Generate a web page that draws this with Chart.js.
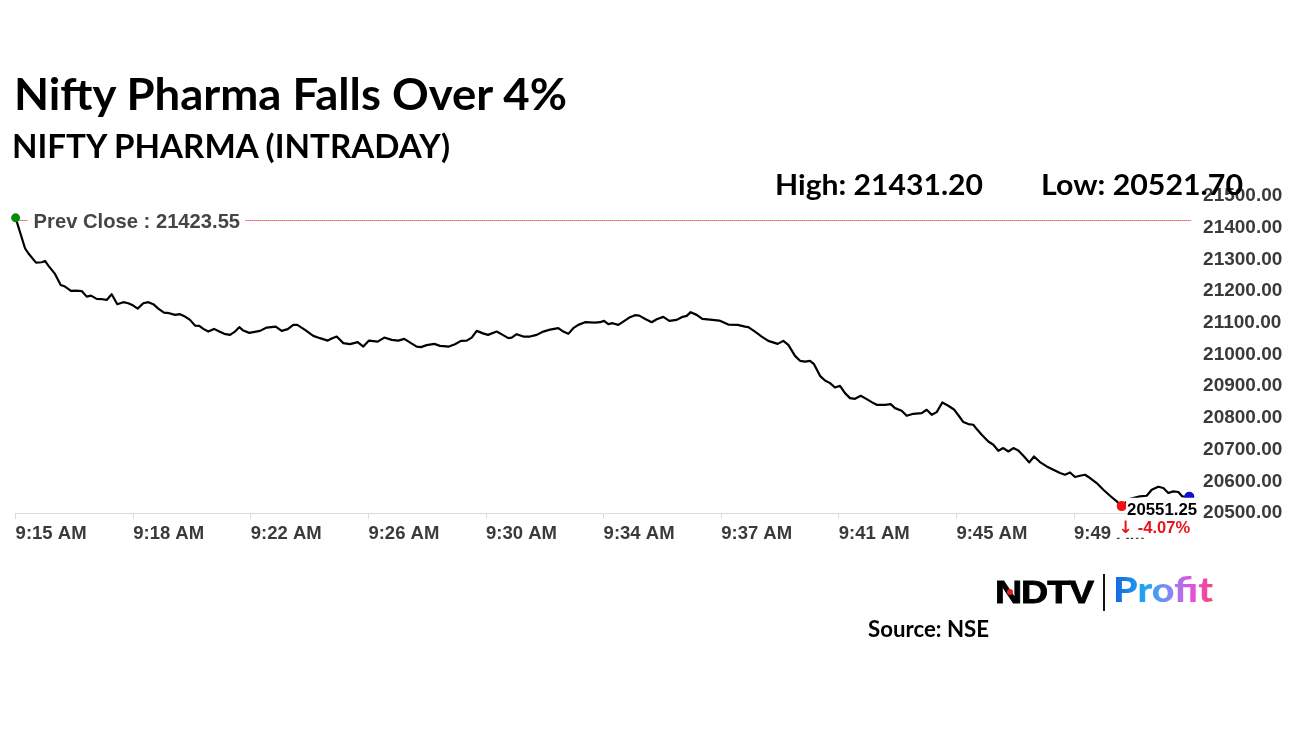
<!DOCTYPE html>
<html><head><meta charset="utf-8">
<script src="https://cdn.jsdelivr.net/npm/chart.js@4.4.1/dist/chart.umd.min.js"></script>
<style>
html,body{margin:0;padding:0;background:#fff;}
#wrap{position:relative;width:1296px;height:729px;overflow:hidden;background:#fff;}
#c{position:absolute;left:0;top:0;}
.t{position:absolute;white-space:nowrap;line-height:1;font-family:Lato,"Open Sans",sans-serif;font-weight:700;color:#000;transform-origin:left top;}
</style></head><body>
<div id="wrap">
<canvas id="c" width="1296" height="729"></canvas>
<div class="t" id="title" style="left:14px;top:71px;font-size:44.7px" data-w="553">Nifty Pharma Falls Over 4%</div>
<div class="t" id="sub" style="left:12px;top:129.6px;font-size:32px" data-w="438">NIFTY PHARMA (INTRADAY)</div>
<div class="t" id="hi" style="left:775px;top:169px;font-size:29.3px" data-w="208"></div>
<div class="t" id="lo" style="left:1041px;top:169px;font-size:29.3px" data-w="202"></div>
<div class="t" id="ndtv" style="left:995px;top:576px;font-size:32px;font-family:'Liberation Sans',Arial,sans-serif;font-weight:700;letter-spacing:-1px;-webkit-text-stroke:0.8px #000" data-w="98">NDTV</div>
<div style="position:absolute;left:1007px;top:589px;width:6px;height:6px;border-radius:50%;background:#e0201b"></div>
<div style="position:absolute;left:1103px;top:574px;width:2px;height:37px;background:#111"></div>
<div class="t" id="profit" style="left:1113px;top:573.3px;font-size:33.5px;font-weight:900;background:linear-gradient(90deg,#1463e0 0%,#1ea8f2 32%,#8c86f2 58%,#e64fdc 80%,#f2467a 100%);-webkit-background-clip:text;background-clip:text;color:transparent" data-w="100">Profit</div>
<div class="t" id="src" style="left:868px;top:618px;font-size:22.3px" data-w="121">Source: NSE</div>
</div>
<script>
// minutes after 9:15 AM
const times = [0, 0.30, 0.405, 0.65, 0.832, 0.938, 1.043, 1.256, 1.438, 1.575,
1.767, 1.916, 2.108, 2.267, 2.404, 2.586, 2.765, 2.905, 3.064, 3.243,
3.434, 3.594, 3.753, 3.893, 4.072, 4.232, 4.391, 4.55, 4.732, 4.901,
5.083, 5.242, 5.402, 5.561, 5.721, 5.858, 5.985, 6.145, 6.327, 6.496,
6.655, 6.837, 6.996, 7.133, 7.261, 7.452, 7.794, 8.007, 8.294, 8.485,
8.677, 8.855, 8.983, 9.228, 9.493, 9.707, 9.952, 10.099, 10.239, 10.45,
10.663, 10.909, 11.087, 11.269, 11.547, 11.757, 11.993, 12.204, 12.395, 12.609,
12.79, 12.927, 13.109, 13.351, 13.533, 13.82, 14.011, 14.203, 14.385, 14.544,
14.704, 14.904, 15.064, 15.341, 15.533, 15.711, 15.82, 15.979, 16.19, 16.403,
16.617, 16.827, 17.041, 17.306, 17.465, 17.624, 17.784, 17.943, 18.157, 18.476,
18.635, 18.763, 18.9, 19.04, 19.219, 19.378, 19.592, 19.751, 19.888, 20.093,
20.284, 20.443, 20.654, 20.845, 21.081, 21.241, 21.4, 21.528, 21.719, 21.898,
22.143, 22.44, 22.727, 23.026, 23.259, 23.364, 23.578, 23.792, 24.002, 24.302,
24.481, 24.64, 24.854, 25.013, 25.173, 25.332, 25.46, 25.651, 25.81, 25.97,
26.129, 26.289, 26.448, 26.608, 26.767, 26.949, 27.14, 27.3, 27.459, 27.723,
27.905, 28.042, 28.256, 28.415, 28.626, 28.894, 29.053, 29.213, 29.372, 29.551,
29.742, 29.934, 30.093, 30.221, 30.38, 30.54, 30.648, 30.808, 31.018, 31.177,
31.337, 31.496, 31.656, 31.816, 31.975, 32.157, 32.325, 32.475, 32.666, 32.88,
33.091, 33.305, 33.463, 33.624, 33.782, 33.942, 34.102, 34.261, 34.474, 34.686,
34.899, 35.113, 35.272, 35.536, 35.855, 36.069, 36.228, 36.439, 36.598, 36.758,
36.917, 37.077, 37.204, 37.427];
const prices = [21431.20, 21335.2, 21319.4, 21289.8, 21291.0, 21295.1, 21280.3, 21254.2, 21219.5, 21214.2,
21200.6, 21201.5, 21200.0, 21182.6, 21185.8, 21175.4, 21174.4, 21172.2, 21190.2, 21158.7,
21165.0, 21161.8, 21154.3, 21144.8, 21161.8, 21165.0, 21158.7, 21144.8, 21132.2, 21130.3,
21125.0, 21127.2, 21119.6, 21109.2, 21091.2, 21090.0, 21080.8, 21072.3, 21080.8, 21072.3,
21065.1, 21061.9, 21072.3, 21086.2, 21075.5, 21068.2, 21074.5, 21084.9, 21088.1, 21074.5,
21079.9, 21093.4, 21093.4, 21077.7, 21058.8, 21051.5, 21043.9, 21051.5, 21056.6, 21035.8,
21032.6, 21038.9, 21025.0, 21043.9, 21040.8, 21053.4, 21046.2, 21043.9, 21049.3, 21035.8,
21025.0, 21023.2, 21029.5, 21033.6, 21027.3, 21025.0, 21032.6, 21043.0, 21043.9, 21053.4,
21074.5, 21066.7, 21061.9, 21072.3, 21061.9, 21051.5, 21053.4, 21064.1, 21056.6, 21056.6,
21061.9, 21072.3, 21078.6, 21083.0, 21072.3, 21065.1, 21083.0, 21093.4, 21101.9, 21100.7,
21101.9, 21106.1, 21095.6, 21098.8, 21093.4, 21103.8, 21117.7, 21124.0, 21122.7, 21111.4,
21101.9, 21111.4, 21118.7, 21106.1, 21109.2, 21117.7, 21121.8, 21133.5, 21125.0, 21112.4,
21110.1, 21107.0, 21094.4, 21093.4, 21088.1, 21086.2, 21072.3, 21056.6, 21043.0, 21033.6,
21043.0, 21030.4, 20995.7, 20980.0, 20977.8, 20980.0, 20969.6, 20932.7, 20917.9, 20909.7,
20895.8, 20901.2, 20878.2, 20862.4, 20860.2, 20869.7, 20859.3, 20849.8, 20841.3, 20841.3,
20843.5, 20830.9, 20822.4, 20806.6, 20812.9, 20815.2, 20825.6, 20809.8, 20818.3, 20848.6,
20838.2, 20825.6, 20804.4, 20786.8, 20780.5, 20778.3, 20764.7, 20746.8, 20725.6, 20715.3,
20696.3, 20704.8, 20694.1, 20704.8, 20697.3, 20678.4, 20659.5, 20678.4, 20660.7, 20646.9,
20636.5, 20626.1, 20620.7, 20627.9, 20613.5, 20617.6, 20620.7, 20610.3, 20594.5, 20573.4,
20554.5, 20536.6, 20521.70, 20545.1, 20552.3, 20554.5, 20573.4, 20582.9, 20578.8, 20563.0,
20568.1, 20566.2, 20552.3, 20551.25];
const tickPositions = [0, 3.75, 7.5, 11.25, 15, 18.75, 22.5, 26.25, 30, 33.75];
const tickLabels = ['9:15 AM', '9:18 AM', '9:22 AM', '9:26 AM', '9:30 AM', '9:34 AM', '9:37 AM', '9:41 AM', '9:45 AM', '9:49 AM'];
const prevClose = 21423.55;
const dayHigh = 21431.20;
const dayLow = 20521.70;
const yMin = 20500, yMax = 21500, yStep = 100;

const n = Math.min(times.length, prices.length);
const points = [];
for (let i = 0; i < n; i++) points.push({x: times[i], y: prices[i]});
const lastPt = points[n - 1];
let lowIdx = 0;
for (let i = 1; i < n; i++) if (points[i].y < points[lowIdx].y) lowIdx = i;
const changePct = (lastPt.y / prevClose - 1) * 100;

document.getElementById('hi').textContent = 'High: ' + dayHigh.toFixed(2);
document.getElementById('lo').textContent = 'Low: ' + dayLow.toFixed(2);

const FONT = '"Liberation Sans", Arial, sans-serif';

const overlay = {
  id: 'overlay',
  beforeDatasetsDraw(chart) {
    const {ctx, chartArea, scales: {y}} = chart;
    const py = Math.round(y.getPixelForValue(prevClose)) + 0.5;
    ctx.save();
    ctx.strokeStyle = '#d8000c'; ctx.lineWidth = 1; ctx.setLineDash([1, 1]);
    ctx.beginPath(); ctx.moveTo(chartArea.left, py); ctx.lineTo(chartArea.right, py); ctx.stroke();
    ctx.setLineDash([]);
    ctx.font = 'bold 20.2px ' + FONT;
    const txt = 'Prev Close : ' + prevClose.toFixed(2);
    const tx = chartArea.left + 18;
    const w = ctx.measureText(txt).width;
    ctx.fillStyle = '#fff'; ctx.fillRect(tx - 6, py - 11, w + 11, 23);
    ctx.fillStyle = '#454545'; ctx.textBaseline = 'middle'; ctx.textAlign = 'left';
    ctx.fillText(txt, tx, py + 2);
    ctx.restore();
  },
  afterDraw(chart) {
    const {ctx, chartArea, scales: {y}} = chart;
    const ly = y.getPixelForValue(lastPt.y);
    ctx.save();
    const right = chartArea.right + 5.5;
    ctx.font = 'bold 16.8px ' + FONT;
    const t1 = lastPt.y.toFixed(2);
    const w1 = ctx.measureText(t1).width;
    ctx.fillStyle = '#fff'; ctx.fillRect(right - w1 - 1, ly + 1, w1 + 3, 20);
    ctx.fillStyle = '#000'; ctx.textAlign = 'right'; ctx.textBaseline = 'middle';
    ctx.fillText(t1, right, ly + 13.5);
    // change label: arrow + percentage
    ctx.font = 'bold 16.5px ' + FONT;
    const t2 = changePct.toFixed(2) + '%';
    const w2 = ctx.measureText(t2).width;
    const r2 = chartArea.right - 1.5;
    const arrowFont = 'bold 17px "DejaVu Sans", sans-serif';
    ctx.font = arrowFont;
    const arrow = '\u2193';
    const wa = ctx.measureText(arrow).width;
    const left2 = r2 - w2 - 5 - wa;
    ctx.fillStyle = '#fff'; ctx.fillRect(left2 - 2, ly + 22, r2 - left2 + 4, 19);
    ctx.fillStyle = '#e8141b';
    ctx.textAlign = 'left';
    ctx.fillText(arrow, left2, ly + 32);
    ctx.font = 'bold 16.5px ' + FONT;
    ctx.textAlign = 'right';
    ctx.fillText(t2, r2, ly + 32);
    ctx.restore();
  }
};

new Chart(document.getElementById('c'), {
  type: 'line',
  data: {
    datasets: [
      {data: [points[0]], showLine: false, pointRadius: 4.5, pointBackgroundColor: '#0a8a0a', pointBorderWidth: 0, order: 0, clip: false},
      {data: [points[lowIdx]], showLine: false, pointRadius: 5, pointBackgroundColor: '#f01010', pointBorderWidth: 0, order: 0, clip: false},
      {data: [lastPt], showLine: false, pointRadius: 5, pointBackgroundColor: '#1010d0', pointBorderWidth: 0, order: 0, clip: false},
      {data: points, borderColor: '#000', borderWidth: 2.2, pointRadius: 0, tension: 0, fill: false, order: 1, clip: false, borderJoinStyle: 'round'}
    ]
  },
  options: {
    responsive: false, animation: false, devicePixelRatio: 1,
    layout: {padding: {left: 15.6, top: 196, right: 0, bottom: 0}},
    plugins: {legend: {display: false}, tooltip: {enabled: false}, title: {display: false}},
    scales: {
      x: {
        type: 'linear', min: 0, max: 37.5,
        afterBuildTicks: s => { s.ticks = tickPositions.map(v => ({value: v})); },
        afterFit: s => { s.height = 216; },
        ticks: {align: 'start', autoSkip: false, maxRotation: 0, padding: 4, color: '#3a3a3a',
          font: {family: FONT, size: 18.5, weight: 'bold'},
          callback: (v, i) => tickLabels[i]},
        grid: {drawOnChartArea: false, drawTicks: true, tickLength: 6, color: '#dcdcdc'},
        border: {display: true, color: '#dcdcdc', width: 1}
      },
      y: {
        position: 'right', min: yMin, max: yMax,
        afterFit: s => { s.width = 104.4; },
        ticks: {stepSize: yStep, padding: 11.5, color: '#3a3a3a',
          font: {family: FONT, size: 19, weight: 'bold'},
          callback: v => Number(v).toFixed(2)},
        grid: {display: false, drawTicks: false},
        border: {display: false}
      }
    }
  },
  plugins: [overlay]
});

function fitAll() {
  document.querySelectorAll('.t[data-w]').forEach(el => {
    el.style.transform = 'none';
    const w = el.getBoundingClientRect().width;
    if (w > 0) el.style.transform = 'scaleX(' + (parseFloat(el.dataset.w) / w) + ')';
  });
}
fitAll();
if (document.fonts && document.fonts.ready) document.fonts.ready.then(fitAll);
</script>
</body></html>
